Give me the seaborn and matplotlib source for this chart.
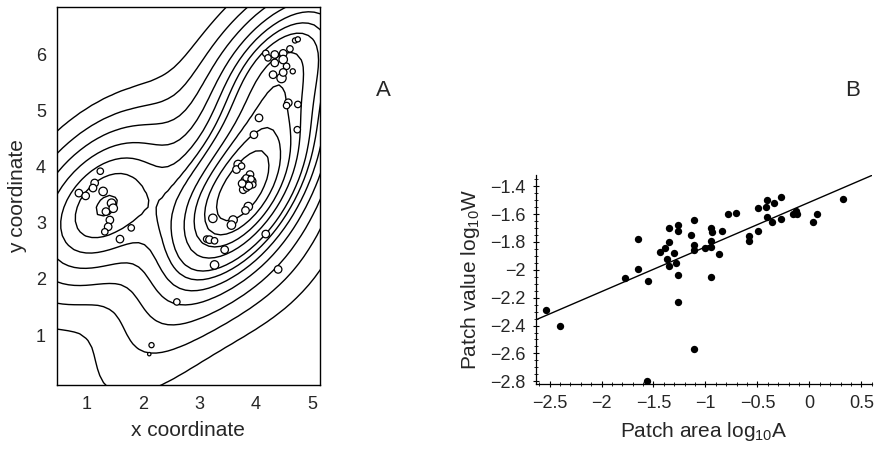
import numpy as np
import pandas as pd
import matplotlib
matplotlib.use("Agg")
import matplotlib.pyplot as plt
from matplotlib.ticker import FuncFormatter, MultipleLocator
import seaborn as sns

# ---------------- Panel A data: patch locations and relative patch sizes
patch_x = [4.70, 4.75, 4.61, 4.18, 4.34, 4.49, 4.22, 4.49, 4.34, 4.55, 4.66, 4.31, 4.46, 4.49,
           4.58, 4.55, 4.75, 4.06, 3.97, 4.74,
           3.69, 3.66, 3.75, 3.90, 3.87, 3.93, 3.81, 3.95, 3.78, 3.84, 3.87, 3.82,
           3.85, 3.80, 3.88, 3.83, 3.92, 3.76,
           3.24, 3.60, 3.57, 3.13, 3.18, 3.27, 3.45, 4.18,
           3.27, 4.40, 2.60, 2.15, 2.11,
           1.24, 1.14, 1.11, 0.86, 0.98, 1.29, 1.44, 1.47, 1.34, 1.41, 1.38, 1.32, 1.59, 1.79]
patch_y = [6.25, 6.27, 6.10, 6.02, 6.00, 6.02, 5.94, 5.91, 5.85, 5.79, 5.70, 5.64, 5.58, 5.68,
           5.14, 5.09, 5.11, 4.87, 4.57, 4.66,
           4.04, 3.95, 4.01, 3.86, 3.77, 3.74, 3.76, 3.68, 3.59, 3.62, 3.29, 3.22,
           3.72, 3.70, 3.66, 3.80, 3.78, 3.70,
           3.08, 3.05, 2.96, 2.71, 2.70, 2.68, 2.52, 2.80,
           2.25, 2.17, 1.59, 0.82, 0.66,
           3.92, 3.71, 3.62, 3.53, 3.48, 3.56, 3.35, 3.26, 3.20, 3.05, 2.93, 2.84, 2.71, 2.91]
patch_size = [3, 3, 4, 4, 5, 5, 4, 6, 5, 4, 3, 5, 7, 5,
              5, 4, 4, 5, 5, 4,
              6, 5, 4, 5, 6, 6, 5, 4, 5, 4, 6, 5,
              5, 4, 5, 4, 4, 5,
              6, 6, 6, 4, 5, 4, 5, 5,
              6, 5, 4, 3, 2,
              4, 5, 5, 5, 5, 6, 6, 6, 5, 5, 5, 4, 5, 4]

# ---------------- Panel B data: log10 patch area vs log10 patch value
log_area = [-2.53, -2.40, -1.77, -1.65, -1.65, -1.55, -1.56, -1.44, -1.35, -1.35, -1.39, -1.37,
            -1.30, -1.35, -1.28, -1.26, -1.26, -1.26, -1.26, -1.14, -1.11, -1.11, -1.11, -1.11,
            -1.00, -0.95, -0.94, -0.95, -0.95, -0.95, -0.87, -0.84, -0.78, -0.71, -0.58, -0.58,
            -0.49, -0.49, -0.42, -0.41, -0.34, -0.27, -0.41, -0.36, -0.27, -0.16, -0.12, -0.13,
            0.03, 0.07, 0.32]
log_value = [-2.29, -2.40, -2.06, -1.78, -1.995, -2.08, -2.80, -1.87, -1.70, -1.80, -1.84, -1.92,
             -1.88, -1.97, -1.95, -1.675, -1.72, -2.04, -2.23, -1.75, -1.64, -1.82, -1.86, -2.565,
             -1.84, -1.70, -1.73, -1.79, -1.835, -2.05, -1.89, -1.72, -1.60, -1.595, -1.76, -1.79,
             -1.72, -1.555, -1.55, -1.50, -1.52, -1.48, -1.62, -1.655, -1.635, -1.60, -1.60, -1.58,
             -1.655, -1.60, -1.495]

x_ticks_A = [1, 2, 3, 4, 5]
y_ticks_A = [1, 2, 3, 4, 5, 6]
x_ticks_B = [-2.5, -2, -1.5, -1, -0.5, 0, 0.5]
y_ticks_B = [-1.4, -1.6, -1.8, -2.0, -2.2, -2.4, -2.6, -2.8]
kde_levels = [0.03, 0.08, 0.15, 0.24, 0.34, 0.45, 0.56, 0.67, 0.77, 0.86, 0.93]

sns.set_theme(style="white")
plt.rcParams["font.family"] = ["Liberation Sans", "DejaVu Sans"]
plt.rcParams["mathtext.fontset"] = "custom"
plt.rcParams["mathtext.rm"] = "Liberation Sans"
plt.rcParams["mathtext.default"] = "regular"

fig = plt.figure(figsize=(8.79, 4.54), dpi=100)
axA = fig.add_axes([0.0648, 0.152, 0.299, 0.833])
axB = fig.add_axes([0.6098, 0.154, 0.382, 0.4604])

# ---------------- Panel A
dfA = pd.DataFrame({"x": patch_x, "y": patch_y, "size": patch_size})
axA.set_xlim(0.47, 5.14)
axA.set_ylim(0.11, 6.85)
sns.kdeplot(data=dfA, x="x", y="y", weights="size", levels=kde_levels,
            bw_adjust=1.4, color="black", linewidths=1.0, cut=5, gridsize=120, ax=axA)
sns.scatterplot(data=dfA, x="x", y="y", size="size", sizes=(6, 45), legend=False,
                facecolor="white", edgecolor="black", linewidth=0.9, ax=axA, zorder=3)
axA.set_xlim(0.47, 5.14)
axA.set_ylim(0.11, 6.85)
axA.set_xticks(x_ticks_A)
axA.set_yticks(y_ticks_A)
axA.tick_params(labelsize=13, direction="in", length=3, color="black", pad=8)
axA.set_xlabel("x coordinate", fontsize=15, labelpad=6)
axA.set_ylabel("y coordinate", fontsize=15, labelpad=6)
for s in axA.spines.values():
    s.set_color("black")
    s.set_linewidth(1.0)

# ---------------- Panel B
dfB = pd.DataFrame({"area": log_area, "value": log_value})
axB.set_xlim(-2.63, 0.6)
axB.set_ylim(-2.82, -1.32)
sns.regplot(data=dfB, x="area", y="value", ci=None, truncate=False, ax=axB,
            scatter_kws=dict(s=28, color="black", linewidths=0, alpha=1),
            line_kws=dict(color="black", linewidth=1.0))
axB.set_xlim(-2.63, 0.6)
axB.set_ylim(-2.82, -1.32)
axB.set_xticks(x_ticks_B)
axB.set_yticks(y_ticks_B)
fmt = FuncFormatter(lambda v, p: ("%g" % round(v, 2)).replace("-", "\u2212"))
axB.xaxis.set_major_formatter(fmt)
axB.yaxis.set_major_formatter(fmt)
axB.xaxis.set_minor_locator(MultipleLocator(0.1))
axB.yaxis.set_minor_locator(MultipleLocator(0.05))
axB.tick_params(which="major", labelsize=13, direction="inout", length=5, width=0.8, color="black", pad=5)
axB.tick_params(which="minor", direction="inout", length=2.5, width=0.6, color="black")
axB.tick_params(axis="both", which="both", bottom=True, left=True)
for side in ["top", "right"]:
    axB.spines[side].set_visible(False)
for side in ["left", "bottom"]:
    axB.spines[side].set_color("black")
    axB.spines[side].set_linewidth(0.9)
axB.set_xlabel("Patch area log$_{10}$A", fontsize=15, labelpad=6)
axB.set_ylabel("Patch value log$_{10}$W", fontsize=15, labelpad=6)

fig.text(383 / 879, 1 - 90 / 454, "A", fontsize=16, ha="center", va="center")
fig.text(853 / 879, 1 - 90 / 454, "B", fontsize=16, ha="center", va="center")

fig.savefig("out.png", dpi=100)
